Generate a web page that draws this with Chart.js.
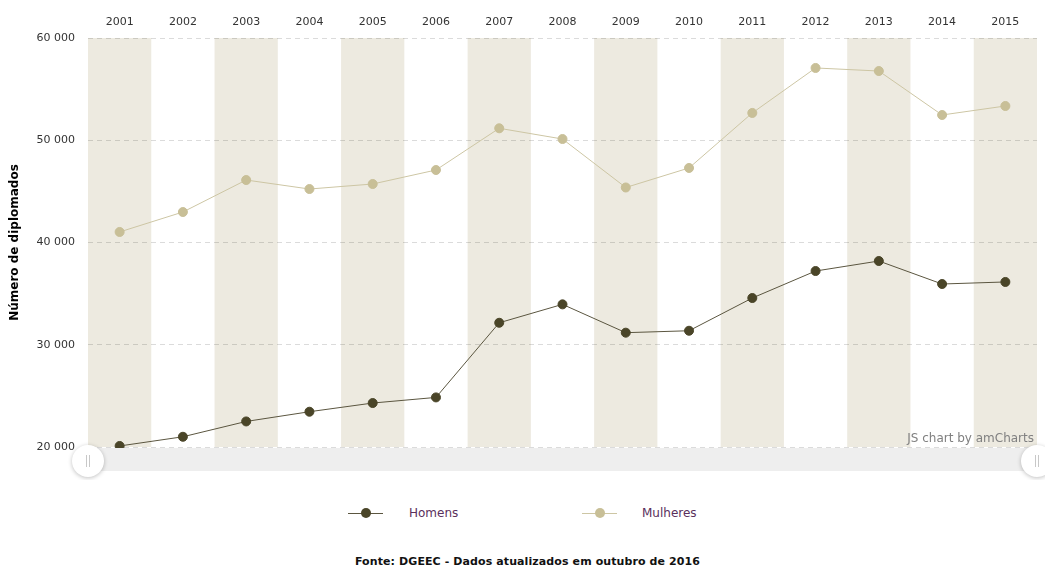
<!DOCTYPE html>
<html>
<head>
<meta charset="utf-8">
<script src="https://cdn.jsdelivr.net/npm/chart.js@4/dist/chart.umd.min.js"></script>
<style>
  body { margin: 0; background: #fff; font-family: "DejaVu Sans", Verdana, sans-serif; }
  #wrap { position: relative; width: 1045px; height: 566px; overflow: hidden; }
  #chart-box { position: absolute; left: 0; top: 0; width: 1045px; height: 480px; }
  .lg-line { position: absolute; height: 1px; width: 35px; top: 513px; }
  .lg-dot { position: absolute; width: 10px; height: 10px; border-radius: 50%; top: 508px; }
  .lg-text { position: absolute; top: 506px; font-size: 12px; color: #5a2f5c; }
  #footer { position: absolute; left: 5px; width: 1045px; top: 555px; text-align: center;
            font-size: 11px; font-weight: bold; color: #111; letter-spacing: 0.1px; }
</style>
</head>
<body>
<div id="wrap">
  <div id="chart-box"><canvas id="diplomados-chart"></canvas></div>

  <div class="lg-line" style="left:348px;background:#5b5640"></div>
  <div class="lg-dot" style="left:361px;background:#4a4528"></div>
  <div class="lg-text" style="left:409px">Homens</div>

  <div class="lg-line" style="left:582px;background:#cdc6a4"></div>
  <div class="lg-dot" style="left:595px;background:#c8bf97"></div>
  <div class="lg-text" style="left:642px">Mulheres</div>

  <div id="footer">Fonte: DGEEC - Dados atualizados em outubro de 2016</div>
</div>
<script>
// ── Data ──

const YEARS = ["2001","2002","2003","2004","2005","2006","2007","2008","2009","2010","2011","2012","2013","2014","2015"];
const HOMENS = [20100, 21000, 22500, 23450, 24300, 24850, 32150, 33950, 31180, 31370, 34570, 37210, 38190, 35940, 36140];
const MULHERES = [41030, 42980, 46110, 45230, 45720, 47090, 51170, 50120, 45380, 47290, 52670, 57070, 56770, 52470, 53350];
const Y_TICKS = [20000, 30000, 40000, 50000, 60000];

const FONT = "DejaVu Sans";

function fmtThousands(v) {
    return String(v).replace(/\B(?=(\d{3})+(?!\d))/g, " ");
}

// ── Alternating column bands ──

const bandPlugin = {
    id: "bands",
    beforeDraw(chart) {
        const { ctx, chartArea, scales } = chart;
        const x = scales.x;
        const w = x.width / YEARS.length;
        ctx.save();
        ctx.fillStyle = "#edeae0";
        YEARS.forEach((yr, i) => {
            if (i % 2 !== 0) return;
            const cx = x.getPixelForValue(i);
            ctx.fillRect(cx - w / 2, chartArea.top, w, chartArea.bottom - chartArea.top);
        });
        ctx.restore();
    }
};

// ── Scrollbar + watermark ──

const scrollPlugin = {
    id: "scrollbar",
    afterDraw(chart) {
        const { ctx, chartArea } = chart;
        const top = chartArea.bottom + 1;
        ctx.save();
        ctx.fillStyle = "#eeeeee";
        ctx.fillRect(chartArea.left, top, chartArea.right - chartArea.left, 23);

        // watermark
        ctx.fillStyle = "#808080";
        ctx.font = "12px " + FONT;
        ctx.textAlign = "right";
        ctx.textBaseline = "alphabetic";
        ctx.fillText("JS chart by amCharts", chartArea.right - 3, chartArea.bottom - 5);

        // handles
        [chartArea.left, chartArea.right].forEach(hx => {
            const hy = top + 13;
            ctx.save();
            ctx.shadowColor = "rgba(0,0,0,0.25)";
            ctx.shadowBlur = 4;
            ctx.shadowOffsetY = 1;
            ctx.beginPath();
            ctx.arc(hx, hy, 16, 0, Math.PI * 2);
            ctx.fillStyle = "#ffffff";
            ctx.fill();
            ctx.restore();
            ctx.strokeStyle = "#c8c8c8";
            ctx.lineWidth = 1;
            ctx.beginPath();
            ctx.moveTo(hx - 1.5, hy - 6); ctx.lineTo(hx - 1.5, hy + 6);
            ctx.moveTo(hx + 1.5, hy - 6); ctx.lineTo(hx + 1.5, hy + 6);
            ctx.stroke();
        });
        ctx.restore();
    }
};

// ── Chart ──

new Chart(document.getElementById("diplomados-chart"), {
    type: "line",
    data: {
        labels: YEARS,
        datasets: [
            {
                label: "Homens",
                data: HOMENS,
                borderColor: "#5b5640",
                borderWidth: 1,
                pointBackgroundColor: "#4a4528",
                pointBorderColor: "#4a4528",
                pointRadius: 4.5,
                pointBorderWidth: 1,
                tension: 0,
                clip: false,
            },
            {
                label: "Mulheres",
                data: MULHERES,
                borderColor: "#cdc6a4",
                borderWidth: 1,
                pointBackgroundColor: "#c8bf97",
                pointBorderColor: "#c8bf97",
                pointRadius: 4.5,
                pointBorderWidth: 1,
                tension: 0,
                clip: false,
            },
        ],
    },
    options: {
        responsive: true,
        maintainAspectRatio: false,
        animation: false,
        layout: { padding: { left: 0, right: 8, top: 0, bottom: 33 } },
        plugins: {
            legend: { display: false },
            tooltip: { enabled: false },
        },
        scales: {
            x: {
                position: "top",
                offset: true,
                grid: { display: false, drawTicks: false },
                border: { display: false },
                ticks: { font: { family: FONT, size: 11 }, color: "#333", padding: 9, maxRotation: 0 },
                afterFit(scale) { scale.height = 38; },
            },
            y: {
                min: 20000,
                max: 60000,
                afterBuildTicks(scale) { scale.ticks = Y_TICKS.map(v => ({ value: v })); },
                grid: { color: "rgba(0,0,0,0.14)", drawTicks: false, lineWidth: 1 },
                border: { display: false, dash: [5, 4] },
                ticks: {
                    font: { family: FONT, size: 11 },
                    color: "#333",
                    padding: 13,
                    callback: v => fmtThousands(v),
                },
                title: {
                    display: true,
                    text: "Número de diplomados",
                    font: { family: FONT, size: 12, weight: "bold" },
                    color: "#000",
                    padding: { top: 8, bottom: 0 },
                },
                afterFit(scale) { scale.width = 88; },
            },
        },
    },
    plugins: [bandPlugin, scrollPlugin],
});
</script>
</body>
</html>
